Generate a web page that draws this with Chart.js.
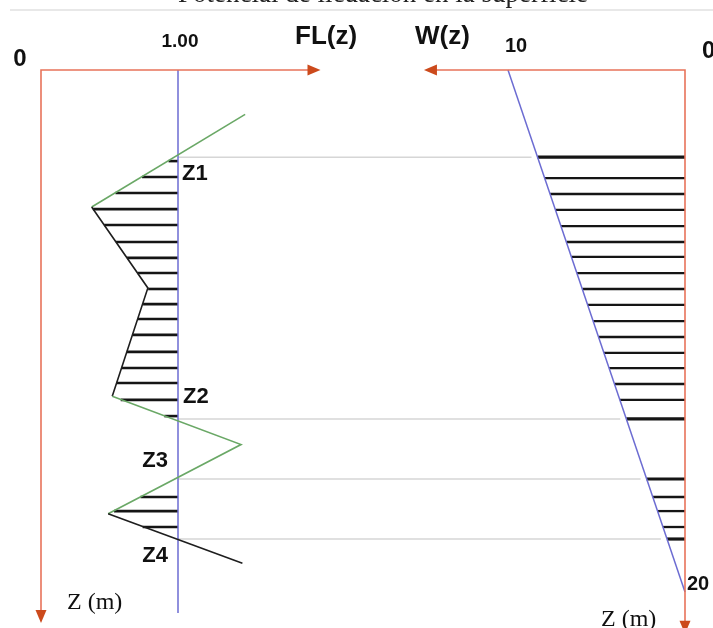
<!DOCTYPE html>
<html>
<head>
<meta charset="utf-8">
<title>FL(z) y W(z)</title>
<script src="https://cdn.jsdelivr.net/npm/chart.js@4/dist/chart.umd.min.js"></script>
<style>
  html, body { margin: 0; padding: 0; background: #ffffff; overflow: hidden; }
  #wrap { width: 713px; height: 628px; position: relative; }
</style>
</head>
<body>
<div id="wrap"><canvas id="c" width="713" height="628"></canvas></div>
<script>
// ---- Factor of safety profile FL(z): vertices of the polyline (z in m) ----
const flProfileFL = [1.49, 0.37, 0.78, 0.52, 1.46, 0.49, 1.47];
const flProfileZ  = [1.70, 5.25, 8.35, 12.50, 14.35, 17.00, 18.90];

// ---- Hatching where FL < 1 (left panel): depth and FL where each bar starts ----
const flHatchZ  = [3.49, 4.10, 4.71, 5.33, 5.94, 6.59, 7.20, 7.78, 8.39, 8.97, 9.54,
                   10.15, 10.80, 11.42, 11.99, 12.64, 13.26, 16.36, 16.90, 17.51];
const flHatchFL = [0.931, 0.737, 0.543, 0.379, 0.461, 0.547, 0.628, 0.705, 0.782, 0.745, 0.707,
                   0.668, 0.626, 0.587, 0.550, 0.582, 0.900, 0.726, 0.533, 0.742];

// ---- Depth weighting W(z): from 10 at the surface to 0 at 20 m ----
const wLineW = [10, 0];
const wLineZ = [0, 20];

// ---- Hatching of W(z) over the liquefiable layers (right panel) ----
const wHatchZ = [3.34, 4.14, 4.75, 5.36, 5.98, 6.59, 7.16, 7.78, 8.39, 9.00, 9.62,
                 10.23, 10.84, 11.42, 12.03, 12.64, 13.37, 15.67, 16.36, 16.90, 17.51, 17.97];
const wHatchW = [8.33, 7.93, 7.62, 7.32, 7.01, 6.70, 6.42, 6.11, 5.80, 5.50, 5.19,
                 4.89, 4.58, 4.29, 3.98, 3.68, 3.32, 2.17, 1.82, 1.55, 1.25, 1.02];

// ---- Layer limits Z1..Z4 and W(z) at each of them ----
const zoneNames = ['Z1', 'Z2', 'Z3', 'Z4'];
const zoneZ     = [3.34, 13.37, 15.67, 17.97];
const zoneW     = [8.33, 3.32, 2.17, 1.02];

// ---- Axis marks ----
const flTickValues = [0, 1];
const flTickLabels = ['0', '1.00'];
const wTickValues  = [10, 0];
const wTickLabels  = ['10', '0'];
const zTickValues  = [20];
const zTickLabels  = ['20'];
const flCriticalValue = 1;        // FL = 1 reference line
const flAxisEnd = 2.04, wAxisEnd = 14.75;
const zAxisEndLeft = 21.19, zAxisEndRight = 21.6, flRefLineEnd = 20.8;

const titleText = 'Potencial de licuación en la superficie';

// ---- Colours ----
const GREEN = '#6aa866';
const DARK  = '#1e1e1e';
const BLUE  = '#6c6cd2';
const RED   = '#e8735a';
const RED_HEAD = '#cc4a1c';
const GRAY  = '#d6d6d6';

const BOLD = '"Liberation Sans", Arial, sans-serif';
const SERIF = '"Liberation Serif", "Times New Roman", serif';

// Scale bounds: FL 0 -> 41px, 1 -> 178px; W 0 -> 685px, 10 -> 508px; z 0 -> 70px, 20 -> 592px
const FL_PX = 137, FL_0 = 41;
const W_PX = 17.7, W_0 = 685;
const Z_PX = 26.1, Z_0 = 70;
const CW = 713, CH = 628;

const pts = (xs, ys) => xs.map((x, i) => ({ x: x, y: ys[i] }));

const datasets = [];

// FL(z) polyline: green where the line goes through FL>1 stretches, dark elsewhere
const greenSegments = new Set([0, 3, 4]);
datasets.push({
  label: 'FL(z)',
  data: pts(flProfileFL, flProfileZ),
  xAxisID: 'xFL', yAxisID: 'y',
  showLine: true, pointRadius: 0, borderWidth: 1.6,
  borderColor: DARK,
  segment: { borderColor: ctx => greenSegments.has(ctx.p0DataIndex) ? GREEN : DARK }
});

// FL = 1 reference line
datasets.push({
  label: 'FL = 1',
  data: [{ x: flCriticalValue, y: 0 }, { x: flCriticalValue, y: flRefLineEnd }],
  xAxisID: 'xFL', yAxisID: 'y',
  showLine: true, pointRadius: 0, borderWidth: 1.5, borderColor: BLUE
});

// Left hatching
flHatchZ.forEach((z, i) => {
  datasets.push({
    data: [{ x: flHatchFL[i], y: z }, { x: flCriticalValue, y: z }],
    xAxisID: 'xFL', yAxisID: 'y',
    showLine: true, pointRadius: 0, borderWidth: 2.6, borderColor: '#151515'
  });
});

// W(z) line
datasets.push({
  label: 'W(z)',
  data: pts(wLineW, wLineZ),
  xAxisID: 'xW', yAxisID: 'y',
  showLine: true, pointRadius: 0, borderWidth: 1.5, borderColor: BLUE
});

// Right hatching
wHatchZ.forEach((z, i) => {
  datasets.push({
    data: [{ x: wHatchW[i], y: z }, { x: 0, y: z }],
    xAxisID: 'xW', yAxisID: 'y',
    showLine: true, pointRadius: 0,
    borderWidth: zoneZ.includes(z) ? 3.2 : 2.3, borderColor: '#151515'
  });
});

function arrowHead(ctx, x, y, dir, len, half) {
  ctx.beginPath();
  if (dir === 'right') { ctx.moveTo(x, y); ctx.lineTo(x - len, y - half); ctx.lineTo(x - len, y + half); }
  if (dir === 'left')  { ctx.moveTo(x, y); ctx.lineTo(x + len, y - half); ctx.lineTo(x + len, y + half); }
  if (dir === 'down')  { ctx.moveTo(x, y); ctx.lineTo(x - half, y - len); ctx.lineTo(x + half, y - len); }
  ctx.closePath();
  ctx.fill();
}

const diagramPlugin = {
  id: 'diagram',
  beforeDatasetsDraw(chart) {
    const ctx = chart.ctx;
    const xF = chart.scales.xFL, xW = chart.scales.xW, y = chart.scales.y;
    ctx.save();
    // light horizontal lines across the layer limits
    ctx.strokeStyle = GRAY;
    ctx.lineWidth = 1.5;
    zoneZ.forEach((z, i) => {
      const py = y.getPixelForValue(z);
      ctx.beginPath();
      ctx.moveTo(xF.getPixelForValue(flCriticalValue), py);
      ctx.lineTo(xW.getPixelForValue(zoneW[i]) - 6, py);
      ctx.stroke();
    });
    // page rule and title
    ctx.strokeStyle = '#e8e8e8';
    ctx.lineWidth = 2;
    ctx.beginPath(); ctx.moveTo(10, 10); ctx.lineTo(CW, 10); ctx.stroke();
    ctx.fillStyle = '#222';
    ctx.font = '27px ' + SERIF;
    ctx.textAlign = 'center';
    ctx.textBaseline = 'alphabetic';
    ctx.fillText(titleText, 383, 2);
    ctx.restore();
  },
  afterDatasetsDraw(chart) {
    const ctx = chart.ctx;
    const xF = chart.scales.xFL, xW = chart.scales.xW, y = chart.scales.y;
    ctx.save();
    const y0 = y.getPixelForValue(0);

    // red axes
    ctx.strokeStyle = RED;
    ctx.fillStyle = RED_HEAD;
    ctx.lineWidth = 1.6;
    const lx = xF.getPixelForValue(0);
    const lEnd = xF.getPixelForValue(flAxisEnd);
    const lBottom = y.getPixelForValue(zAxisEndLeft);
    ctx.beginPath();
    ctx.moveTo(lEnd - 10, y0); ctx.lineTo(lx, y0); ctx.lineTo(lx, lBottom - 10);
    ctx.stroke();
    arrowHead(ctx, lEnd, y0, 'right', 13, 5.5);
    arrowHead(ctx, lx, lBottom, 'down', 13, 5.5);

    const rx = xW.getPixelForValue(0);
    const rEnd = xW.getPixelForValue(wAxisEnd);
    const rBottom = y.getPixelForValue(zAxisEndRight);
    ctx.beginPath();
    ctx.moveTo(rEnd + 10, y0); ctx.lineTo(rx, y0); ctx.lineTo(rx, rBottom - 10);
    ctx.stroke();
    arrowHead(ctx, rEnd, y0, 'left', 13, 5.5);
    arrowHead(ctx, rx, rBottom, 'down', 13, 5.5);

    // tick labels
    ctx.fillStyle = '#111';
    ctx.textBaseline = 'middle';
    ctx.textAlign = 'center';
    ctx.font = 'bold 24px ' + BOLD;
    ctx.fillText(flTickLabels[0], xF.getPixelForValue(flTickValues[0]) - 21, y0 - 11);
    ctx.font = 'bold 19px ' + BOLD;
    ctx.fillText(flTickLabels[1], xF.getPixelForValue(flTickValues[1]) + 2, y0 - 28);
    ctx.font = 'bold 20px ' + BOLD;
    ctx.fillText(wTickLabels[0], xW.getPixelForValue(wTickValues[0]) + 8, y0 - 24);
    ctx.font = 'bold 24px ' + BOLD;
    ctx.textAlign = 'left';
    ctx.fillText(wTickLabels[1], xW.getPixelForValue(wTickValues[1]) + 17, y0 - 19);
    ctx.font = 'bold 20px ' + BOLD;
    ctx.fillText(zTickLabels[0], xW.getPixelForValue(0) + 2, y.getPixelForValue(zTickValues[0]) - 8);

    // axis titles
    ctx.textAlign = 'left';
    ctx.font = 'bold 26px ' + BOLD;
    ctx.fillText('FL(z)', 295, 37);
    ctx.fillText('W(z)', 415, 37);

    // layer names
    ctx.font = 'bold 22px ' + BOLD;
    ctx.textAlign = 'left';
    const x1 = xF.getPixelForValue(flCriticalValue);
    ctx.fillText(zoneNames[0], x1 + 4, y.getPixelForValue(zoneZ[0]) + 17);
    ctx.fillText(zoneNames[1], x1 + 5, y.getPixelForValue(zoneZ[1]) - 22);
    ctx.textAlign = 'right';
    ctx.fillText(zoneNames[2], x1 - 10, (y.getPixelForValue(zoneZ[1]) + y.getPixelForValue(zoneZ[2])) / 2 + 12);
    ctx.fillText(zoneNames[3], x1 - 10, y.getPixelForValue(zoneZ[3]) + 17);

    // depth axis names
    ctx.font = '24px ' + SERIF;
    ctx.textAlign = 'left';
    ctx.fillText('Z (m)', 67, 603);
    ctx.fillText('Z (m)', 601, 620);
    ctx.restore();
  }
};

new Chart(document.getElementById('c'), {
  type: 'scatter',
  data: { datasets: datasets },
  options: {
    responsive: false,
    animation: false,
    events: [],
    layout: { padding: 0 },
    plugins: { legend: { display: false }, tooltip: { enabled: false } },
    scales: {
      xFL: { type: 'linear', axis: 'x', display: false,
             min: -FL_0 / FL_PX, max: (CW - FL_0) / FL_PX },
      xW:  { type: 'linear', axis: 'x', display: false, reverse: true,
             min: -(CW - W_0) / W_PX, max: W_0 / W_PX },
      y:   { type: 'linear', display: false, reverse: true,
             min: -Z_0 / Z_PX, max: (CH - Z_0) / Z_PX }
    }
  },
  plugins: [diagramPlugin]
});
</script>
</body>
</html>
